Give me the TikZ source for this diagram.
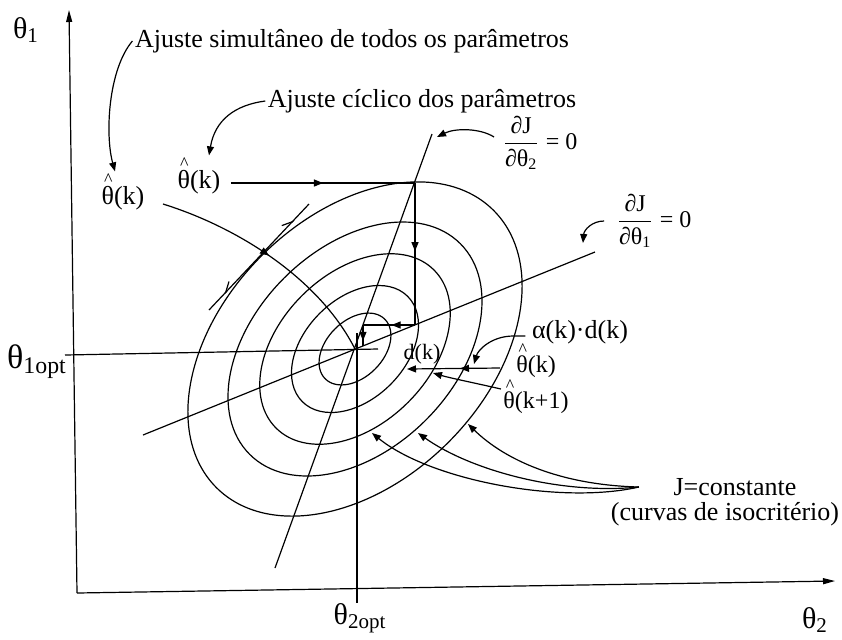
\documentclass[tikz,border=0pt]{standalone}
\usepackage{fontspec}
\setmainfont{Liberation Serif}
\usetikzlibrary{arrows.meta,positioning,decorations.markings}

% theta com chapeu
\newcommand{\thhat}{\leavevmode\makebox[0pt][l]{\kern0.1em\raisebox{0.72em}{\fontsize{9}{9}\selectfont\textasciicircum}}θ}

\begin{document}
\begin{tikzpicture}[
  x=0.5pt, y=-0.5pt,
  line width=0.6pt,
  >={Triangle[length=4.5pt,width=3.5pt]},
  lbl/.style={inner sep=1pt, font=\fontsize{13}{15}\selectfont},
  small/.style={inner sep=1pt, font=\fontsize{11}{13}\selectfont},
  frac/.style={inner sep=1pt, font=\fontsize{12}{14}\selectfont},
  axlbl/.style={inner sep=0pt, font=\fontsize{15}{17}\selectfont},
  axis/.style={-{Triangle[length=6pt,width=3pt]}},
  midarrow/.style={postaction={decorate}, decoration={markings, mark=at position #1 with {\arrow{>}}}},
  midarrow/.default=0.5,
  barbs/.style={postaction={decorate}, decoration={markings,
      mark=at position 0.15 with {\arrowreversed{Straight Barb[left,length=5pt,width=5pt]}},
      mark=at position 0.85 with {\arrow{Straight Barb[left,length=5pt,width=5pt]}}}}
]
\useasboundingbox (0,0) rectangle (842,639);

% eixos
\coordinate (orig) at (77,593);
\coordinate (ytop) at (69,10);
\coordinate (xend) at (835,581);
\draw[axis] (orig) -- (ytop);
\draw[axis] (orig) -- (xend);
\node[axlbl] (t1) at (26,30) {θ\textsubscript{1}};
\node[axlbl] (t2) at (815,620) {θ\textsubscript{2}};
\node[axlbl, font=\fontsize{17}{19}\selectfont] (t1opt) at (37,362) {θ\textsubscript{1opt}};
\node[axlbl] (t2opt) at (360,618) {θ\textsubscript{2opt}};

% ponto otimo
\coordinate (O) at (355,349);
\coordinate (h1a) at (65,355);
\coordinate (h1b) at (378,349);
\coordinate (v2a) at (357,333);
\coordinate (v2b) at (357,603);
\draw (h1a) -- (h1b);
\draw (v2a) -- (v2b);

% curvas de isocriterio
\foreach \s in {1,0.76,0.57,0.38,0.215}
  \draw[rotate around={45:(O)}] (O) ellipse [x radius=196*\s, y radius=132*\s];

% retas dJ/dtheta = 0
\coordinate (l1a) at (143,435);
\coordinate (l1b) at (595,252);
\coordinate (l2a) at (275,568);
\coordinate (l2b) at (432,134);
\draw (l1a) -- (l1b);
\draw (l2a) -- (l2b);

% textos
\node[lbl] (simul) at (352,41) {Ajuste simultâneo de todos os parâmetros};
\node[lbl] (cicl) at (422,101) {Ajuste cíclico dos parâmetros};
\node[lbl] (thsim) at (123,192) {\thhat(k)};
\node[lbl] (thcyc) at (199,176) {\thhat(k)};
\node[frac] (dj2) at (540,143) {$\displaystyle\frac{\mbox{∂J}}{\mbox{∂θ\textsubscript{2}}}$ = 0};
\node[frac] (dj1) at (654,221) {$\displaystyle\frac{\mbox{∂J}}{\mbox{∂θ\textsubscript{1}}}$ = 0};
\node[small] (dk) at (422,354) {d(k)};
\node[lbl] (adk) at (580,332) {α(k)·d(k)};
\node[lbl, font=\fontsize{12}{14}\selectfont] (thk) at (536,361) {\thhat(k)};
\node[lbl, font=\fontsize{12}{14}\selectfont] (thk1) at (536,397) {\thhat(k+1)};
\node[lbl] (jc1) at (735,487) {J=constante};
\node[lbl, below=1pt of jc1, xshift=-5pt] (jc2) {(curvas de isocritério)};

\draw[->] (simul.west) .. controls (108,70) and (105,135) .. ([xshift=-4pt]thsim.north);
\draw[->] (cicl.west) .. controls (235,105) and (215,120) .. ([xshift=5pt]thcyc.north);

\coordinate (l2tip) at (437,137);
\draw[->] ([xshift=-3pt,yshift=3pt]dj2.west) .. controls (480,128) and (455,128) .. (l2tip);
\coordinate (l1tip) at (583,243);
\draw[->] ([xshift=-5pt]dj1.west) .. controls (592,221) and (584,230) .. (l1tip);

% tangente a curva externa
\coordinate (tg1) at (209,310);
\coordinate (tg2) at (309,204);
\draw[barbs] (tg1) -- (tg2);

% ajuste simultaneo
\draw[midarrow=0.48] ([xshift=8pt,yshift=-6pt]thsim.east) .. controls (240,228) and (320,280) .. (O);

% ajuste ciclico
\coordinate (p1) at (415,183);
\coordinate (p2) at (415,325);
\coordinate (p3) at (363,325);
\coordinate (p4) at (363,346);
\draw[midarrow=0.5] ([xshift=4pt,yshift=-3.5pt]thcyc.east) -- (p1);
\draw[midarrow=0.48] (p1) -- (p2);
\draw[midarrow=0.45] (p2) -- (p3);
\draw[midarrow=0.75] (p3) -- (p4);

% passo alpha(k) d(k)
\coordinate (q0) at (500,368);
\coordinate (q2) at (407,369);
\draw[->, midarrow=0.43] (q0) -- (q2);
\coordinate (q1tip) at (474,364);
\draw[->] ([xshift=-2pt,yshift=-2pt]adk.west) -- ++(-12,0) .. controls +(-22,0) and +(4,-14) .. (q1tip);
\coordinate (q1b) at (433,373);
\draw[->] ([yshift=4pt]thk1.west) .. controls (475,383) and (450,378) .. (q1b);

% setas para as curvas
\coordinate[left=16pt of jc1] (jcs);
\coordinate (e1) at (372,433);
\coordinate (e2) at (418,433);
\coordinate (e3) at (468,424);
\draw[->] (jcs) .. controls (560,485) and (505,460) .. (e3);
\draw[->] (jcs) .. controls (560,495) and (470,470) .. (e2);
\draw[->] (jcs) .. controls (560,505) and (430,480) .. (e1);
\end{tikzpicture}
\end{document}
